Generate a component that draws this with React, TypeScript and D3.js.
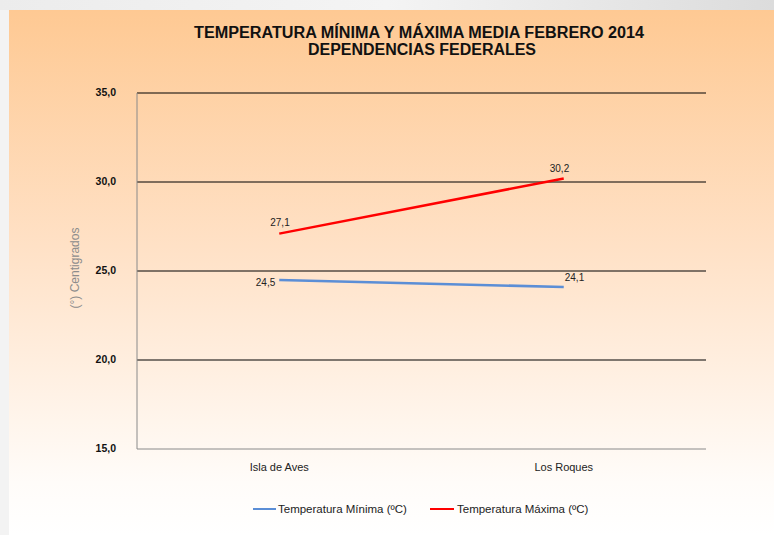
import React from 'react';
import * as d3 from 'd3';

const categories = ['Isla de Aves', 'Los Roques'];
const minima = [24.5, 24.1];
const maxima = [27.1, 30.2];
const yTicks = [15, 20, 25, 30, 35];

const width = 774;
const height = 535;
const margin = { top: 93, right: 68, bottom: 86, left: 137 };

const fmt = (v: number) => v.toFixed(1).replace('.', ',');

export default function App() {
  const innerWidth = width - margin.left - margin.right;
  const innerHeight = height - margin.top - margin.bottom;

  const xScale = d3.scalePoint<string>()
    .domain(categories)
    .range([0, innerWidth])
    .padding(0.5);

  const yScale = d3.scaleLinear()
    .domain([15, 35])
    .range([innerHeight, 0]);

  const line = d3.line<number>()
    .x((d, i) => xScale(categories[i]) as number)
    .y(d => yScale(d));

  const font = 'Arial, "Liberation Sans", sans-serif';

  return (
    <div style={{ position: 'fixed', left: 0, top: 0 }}>
      <svg width={width} height={height} style={{ display: 'block' }}>
        <defs>
          <linearGradient id="bg" x1="0" y1="0" x2="0" y2="1">
            <stop offset="0" stopColor="#fec993" />
            <stop offset="0.45" stopColor="#ffe1c6" />
            <stop offset="0.9" stopColor="#fffcf9" />
            <stop offset="1" stopColor="#ffffff" />
          </linearGradient>
          <linearGradient id="topbar" x1="0" y1="0" x2="1" y2="0">
            <stop offset="0" stopColor="#ececec" />
            <stop offset="0.5" stopColor="#f4f4f4" />
            <stop offset="1" stopColor="#dcdcdc" />
          </linearGradient>
        </defs>
        <rect width={width} height={height} fill="#ffffff" />
        <rect width={width} height={10} fill="url(#topbar)" />
        <rect x={0} y={10} width={9} height={height - 10} fill="#f3f3f3" />
        <rect x={9} y={10} width={width - 9} height={height - 10} fill="url(#bg)" />

        <text x={194} y={38} fontFamily={font} fontWeight="bold" fontSize={16} fill="#111"
          textLength={450} lengthAdjust="spacingAndGlyphs">
          TEMPERATURA MÍNIMA Y MÁXIMA MEDIA FEBRERO 2014
        </text>
        <text x={308} y={55} fontFamily={font} fontWeight="bold" fontSize={16} fill="#111"
          textLength={228} lengthAdjust="spacingAndGlyphs">
          DEPENDENCIAS FEDERALES
        </text>

        <text transform={`translate(79, 268) rotate(-90)`} textAnchor="middle"
          fontFamily={font} fontSize={12} fill="#8c8c8c">
          (°) Centigrados
        </text>

        <g transform={`translate(${margin.left}, ${margin.top})`}>
          {yTicks.map(t => (
            <g key={t}>
              {t > 15 && (
                <line x1={0} x2={innerWidth} y1={yScale(t)} y2={yScale(t)} stroke="#000" strokeWidth={1} />
              )}
              <text x={-21} y={yScale(t) + 3} textAnchor="end" fontFamily={font}
                fontWeight="bold" fontSize={10.5} fill="#111">
                {fmt(t)}
              </text>
            </g>
          ))}
          <line x1={0} x2={0} y1={0} y2={innerHeight} stroke="#8a8a8a" strokeWidth={1} />
          <line x1={0} x2={innerWidth} y1={innerHeight} y2={innerHeight} stroke="#8a8a8a" strokeWidth={1} />

          {categories.map(c => (
            <text key={c} x={xScale(c)} y={innerHeight + 22} textAnchor="middle"
              fontFamily={font} fontSize={11} fill="#222">
              {c}
            </text>
          ))}

          <path d={line(minima) || ''} fill="none" stroke="#5b8ed6" strokeWidth={2.5} />
          <path d={line(maxima) || ''} fill="none" stroke="#ff0000" strokeWidth={2.5} />

          <text x={(xScale(categories[0]) as number) - 4} y={yScale(minima[0]) + 6} textAnchor="end"
            fontFamily={font} fontSize={10} fill="#222">{fmt(minima[0])}</text>
          <text x={(xScale(categories[1]) as number) + 1} y={yScale(minima[1]) - 6} textAnchor="start"
            fontFamily={font} fontSize={10} fill="#222">{fmt(minima[1])}</text>
          <text x={(xScale(categories[0]) as number) - 9} y={yScale(maxima[0]) - 8} textAnchor="start"
            fontFamily={font} fontSize={10} fill="#222">{fmt(maxima[0])}</text>
          <text x={(xScale(categories[1]) as number) - 14} y={yScale(maxima[1]) - 6} textAnchor="start"
            fontFamily={font} fontSize={10} fill="#222">{fmt(maxima[1])}</text>
        </g>

        <g fontFamily={font} fontSize={11.5} fill="#222">
          <line x1={253} x2={276} y1={509} y2={509} stroke="#5b8ed6" strokeWidth={2} />
          <text x={278} y={513}>Temperatura  Mínima (ºC)</text>
          <line x1={430} x2={454} y1={509} y2={509} stroke="#ff0000" strokeWidth={2} />
          <text x={457} y={513}>Temperatura  Máxima (ºC)</text>
        </g>
      </svg>
    </div>
  );
}
